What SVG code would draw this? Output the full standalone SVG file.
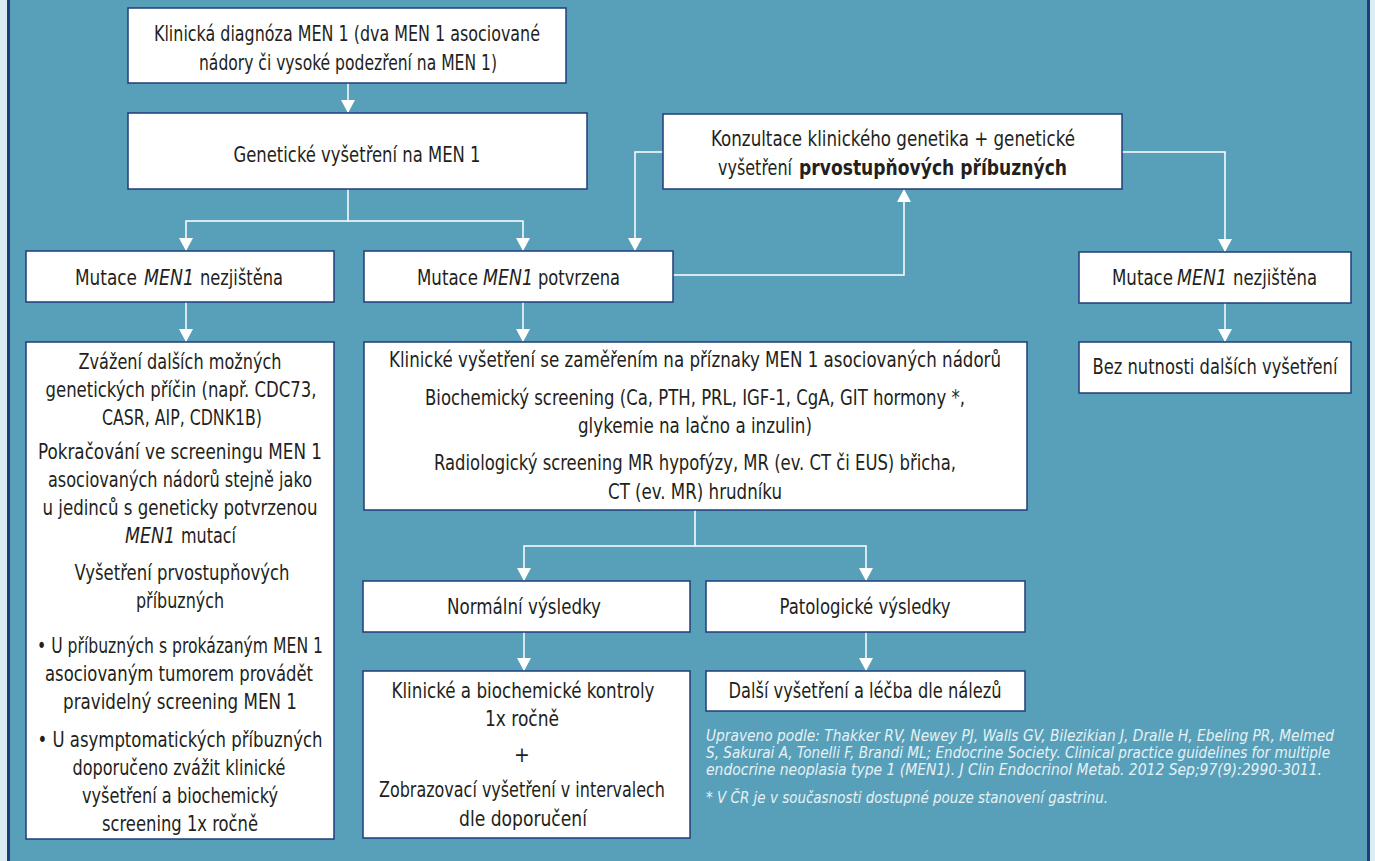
<svg xmlns="http://www.w3.org/2000/svg" width="1375" height="861" viewBox="0 0 1375 861">
<style>
.box{fill:#ffffff;stroke:#1f3d7a;stroke-width:1.5}
.t{font-family:"DejaVu Sans Condensed","Liberation Sans",sans-serif;font-size:21px;fill:#231f20;text-anchor:middle}
.s{text-anchor:start}
.i{font-style:italic}
.b{font-weight:bold}
.fn{font-family:"DejaVu Sans Condensed","Liberation Sans",sans-serif;font-size:15.5px;font-style:italic;fill:#e6f1f5}
.c{fill:none;stroke:#ffffff;stroke-width:1.5}
</style>
<defs>
<marker id="ah" markerUnits="userSpaceOnUse" markerWidth="14" markerHeight="16" refX="12" refY="7" orient="auto">
<path d="M0,0 L13,7 L0,14 Z" fill="#ffffff"/>
</marker>
</defs>
<rect x="0" y="0" width="1375" height="861" fill="#58a0b9"/>
<rect x="0" y="0" width="7" height="861" fill="#dbecf4"/>
<rect x="7" y="0" width="3" height="861" fill="#1f3d7a"/>
<rect x="1367" y="0" width="3" height="861" fill="#1f3d7a"/>
<rect x="1370" y="0" width="5" height="861" fill="#dbecf4"/>

<g id="connectors">
<path class="c" d="M348,83 V112" marker-end="url(#ah)"/>
<path class="c" d="M348,189 V221 H186 V250" marker-end="url(#ah)"/>
<path class="c" d="M348,221 H523 V250" marker-end="url(#ah)"/>
<path class="c" d="M186,302 V341" marker-end="url(#ah)"/>
<path class="c" d="M523,302 V341" marker-end="url(#ah)"/>
<path class="c" d="M673,275 H904 V190" marker-end="url(#ah)"/>
<path class="c" d="M663,152 H635 V250" marker-end="url(#ah)"/>
<path class="c" d="M1122,152 H1225 V251" marker-end="url(#ah)"/>
<path class="c" d="M1225,303 V341" marker-end="url(#ah)"/>
<path class="c" d="M695,510 V546 H524 V580" marker-end="url(#ah)"/>
<path class="c" d="M695,546 H866 V580" marker-end="url(#ah)"/>
<path class="c" d="M524,632 V670" marker-end="url(#ah)"/>
<path class="c" d="M866,632 V670" marker-end="url(#ah)"/>
</g>

<g id="n-diagnoza">
<rect class="box" x="128" y="8" width="438" height="75"/>
<text class="t" x="347" y="41" textLength="386" lengthAdjust="spacingAndGlyphs">Klinická diagnóza MEN 1 (dva MEN 1 asociované</text>
<text class="t" x="348" y="70" textLength="298" lengthAdjust="spacingAndGlyphs">nádory či vysoké podezření na MEN 1)</text>
</g>

<g id="n-geneticke">
<rect class="box" x="128" y="113" width="459" height="76"/>
<text class="t" x="357" y="162" textLength="247" lengthAdjust="spacingAndGlyphs">Genetické vyšetření na MEN 1</text>
</g>

<g id="n-konzultace">
<rect class="box" x="663" y="114" width="459" height="75"/>
<text class="t" x="893" y="146" textLength="364" lengthAdjust="spacingAndGlyphs">Konzultace klinického genetika + genetické</text>
<text class="t s" x="718" y="175" textLength="74" lengthAdjust="spacingAndGlyphs">vyšetření</text>
<text class="t s b" x="799" y="175" textLength="268" lengthAdjust="spacingAndGlyphs">prvostupňových příbuzných</text>
</g>

<g id="n-nezjistena-left">
<rect class="box" x="26" y="251" width="308" height="51"/>
<text class="t s" x="75" y="285" textLength="62" lengthAdjust="spacingAndGlyphs">Mutace</text>
<text class="t s i" x="144" y="285" textLength="50" lengthAdjust="spacingAndGlyphs">MEN1</text>
<text class="t s" x="200" y="285" textLength="83" lengthAdjust="spacingAndGlyphs">nezjištěna</text>
</g>

<g id="n-potvrzena">
<rect class="box" x="364" y="251" width="309" height="51"/>
<text class="t s" x="417" y="285" textLength="61" lengthAdjust="spacingAndGlyphs">Mutace</text>
<text class="t s i" x="483" y="285" textLength="50" lengthAdjust="spacingAndGlyphs">MEN1</text>
<text class="t s" x="538" y="285" textLength="82" lengthAdjust="spacingAndGlyphs">potvrzena</text>
</g>

<g id="n-nezjistena-right">
<rect class="box" x="1079" y="252" width="272" height="51"/>
<text class="t s" x="1112" y="285" textLength="61" lengthAdjust="spacingAndGlyphs">Mutace</text>
<text class="t s i" x="1177" y="285" textLength="50" lengthAdjust="spacingAndGlyphs">MEN1</text>
<text class="t s" x="1233" y="285" textLength="84" lengthAdjust="spacingAndGlyphs">nezjištěna</text>
</g>

<g id="n-bez">
<rect class="box" x="1079" y="342" width="272" height="51"/>
<text class="t" x="1215" y="374" textLength="245" lengthAdjust="spacingAndGlyphs">Bez nutnosti dalších vyšetření</text>
</g>

<g id="n-zvazeni">
<rect class="box" x="26" y="342" width="308" height="497"/>
<text class="t" x="180" y="369" textLength="203" lengthAdjust="spacingAndGlyphs">Zvážení dalších možných</text>
<text class="t" x="181" y="397" textLength="271" lengthAdjust="spacingAndGlyphs">genetických příčin (např. CDC73,</text>
<text class="t" x="182" y="425" textLength="160" lengthAdjust="spacingAndGlyphs">CASR, AIP, CDNK1B)</text>
<text class="t" x="180" y="459" textLength="284" lengthAdjust="spacingAndGlyphs">Pokračování ve screeningu MEN 1</text>
<text class="t" x="180" y="487" textLength="264" lengthAdjust="spacingAndGlyphs">asociovaných nádorů stejně jako</text>
<text class="t" x="180" y="515" textLength="275" lengthAdjust="spacingAndGlyphs">u jedinců s geneticky potvrzenou</text>
<text class="t s i" x="125" y="543" textLength="50" lengthAdjust="spacingAndGlyphs">MEN1</text>
<text class="t s" x="181" y="543" textLength="55" lengthAdjust="spacingAndGlyphs">mutací</text>
<text class="t" x="182" y="580" textLength="215" lengthAdjust="spacingAndGlyphs">Vyšetření  prvostupňových</text>
<text class="t" x="180" y="608" textLength="88" lengthAdjust="spacingAndGlyphs">příbuzných</text>
<text class="t" x="180" y="653" textLength="286" lengthAdjust="spacingAndGlyphs">• U příbuzných s prokázaným MEN 1</text>
<text class="t" x="179" y="681" textLength="268" lengthAdjust="spacingAndGlyphs">asociovaným tumorem provádět</text>
<text class="t" x="180" y="709" textLength="234" lengthAdjust="spacingAndGlyphs">pravidelný screening MEN 1</text>
<text class="t" x="180" y="747" textLength="285" lengthAdjust="spacingAndGlyphs">• U asymptomatických příbuzných</text>
<text class="t" x="179" y="775" textLength="213" lengthAdjust="spacingAndGlyphs">doporučeno zvážit klinické</text>
<text class="t" x="180" y="803" textLength="196" lengthAdjust="spacingAndGlyphs">vyšetření a biochemický</text>
<text class="t" x="180" y="831" textLength="156" lengthAdjust="spacingAndGlyphs">screening 1x ročně</text>
</g>

<g id="n-klinicke">
<rect class="box" x="364" y="342" width="663" height="168"/>
<text class="t" x="695" y="367" textLength="612" lengthAdjust="spacingAndGlyphs">Klinické vyšetření se zaměřením na příznaky MEN 1 asociovaných nádorů</text>
<text class="t" x="695" y="405" textLength="540" lengthAdjust="spacingAndGlyphs">Biochemický screening (Ca, PTH,  PRL, IGF-1, CgA, GIT hormony *,</text>
<text class="t" x="695" y="433" textLength="234" lengthAdjust="spacingAndGlyphs">glykemie na lačno a inzulin)</text>
<text class="t" x="695" y="470" textLength="522" lengthAdjust="spacingAndGlyphs">Radiologický screening MR hypofýzy, MR (ev. CT či EUS) břicha,</text>
<text class="t" x="695" y="499" textLength="174" lengthAdjust="spacingAndGlyphs">CT (ev. MR) hrudníku</text>
</g>

<g id="n-normalni">
<rect class="box" x="363" y="581" width="327" height="51"/>
<text class="t" x="524" y="614" textLength="154" lengthAdjust="spacingAndGlyphs">Normální výsledky</text>
</g>

<g id="n-patologicke">
<rect class="box" x="706" y="581" width="319" height="51"/>
<text class="t" x="865" y="614" textLength="171" lengthAdjust="spacingAndGlyphs">Patologické výsledky</text>
</g>

<g id="n-kontroly">
<rect class="box" x="363" y="671" width="327" height="167"/>
<text class="t" x="523" y="698" textLength="263" lengthAdjust="spacingAndGlyphs">Klinické a biochemické kontroly</text>
<text class="t" x="522" y="726" textLength="74" lengthAdjust="spacingAndGlyphs">1x ročně</text>
<text class="t" x="522" y="762">+</text>
<text class="t" x="522" y="797" textLength="286" lengthAdjust="spacingAndGlyphs">Zobrazovací vyšetření v intervalech</text>
<text class="t" x="523" y="826" textLength="128" lengthAdjust="spacingAndGlyphs">dle doporučení</text>
</g>

<g id="n-dalsi">
<rect class="box" x="706" y="671" width="319" height="40"/>
<text class="t" x="865" y="698" textLength="273" lengthAdjust="spacingAndGlyphs">Další vyšetření a léčba dle nálezů</text>
</g>

<g id="footnote">
<text class="fn" x="706" y="741" textLength="628" lengthAdjust="spacingAndGlyphs">Upraveno podle: Thakker RV, Newey PJ, Walls GV, Bilezikian J, Dralle H, Ebeling PR, Melmed</text>
<text class="fn" x="706" y="758" textLength="624" lengthAdjust="spacingAndGlyphs">S, Sakurai A, Tonelli F, Brandi ML; Endocrine Society. Clinical practice guidelines for multiple</text>
<text class="fn" x="706" y="775" textLength="616" lengthAdjust="spacingAndGlyphs">endocrine neoplasia type 1 (MEN1). J Clin Endocrinol Metab. 2012 Sep;97(9):2990-3011.</text>
<text class="fn" x="706" y="803" textLength="402" lengthAdjust="spacingAndGlyphs">* V ČR je v současnosti dostupné pouze stanovení gastrinu.</text>
</g>
</svg>
